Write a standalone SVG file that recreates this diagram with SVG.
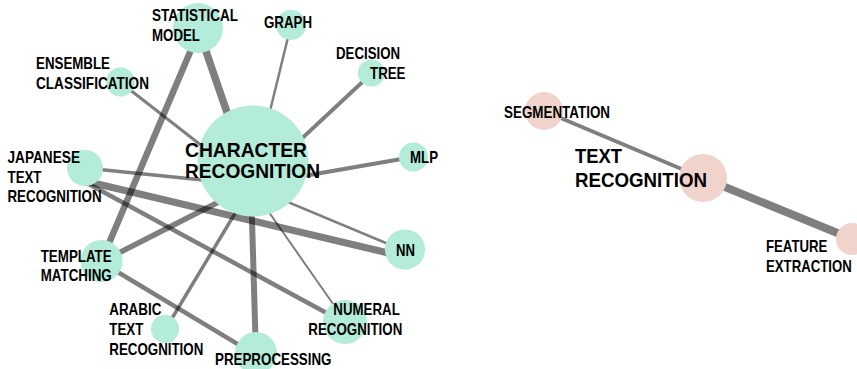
<svg xmlns="http://www.w3.org/2000/svg" width="857" height="369" viewBox="0 0 857 369">
<style>
.e{stroke:#000;stroke-opacity:.5;fill:none}
.g{fill:#b3ecd8}
.p{fill:#f0d4cb}
text{font-family:"Liberation Sans",Arial,sans-serif;font-weight:bold;fill:#000}
.s{font-size:16.5px}
.n{font-size:13.2px}
.b{font-size:19.5px}
</style>
<rect width="857" height="369" fill="#fff"/>
<g id="edges">
<line class="e" x1="199" y1="31" x2="252" y2="185" stroke-width="7.5"/>
<line class="e" x1="291" y1="25" x2="252" y2="185" stroke-width="2.5"/>
<line class="e" x1="371" y1="74" x2="252" y2="185" stroke-width="4"/>
<line class="e" x1="120" y1="82" x2="252" y2="185" stroke-width="3"/>
<line class="e" x1="413" y1="157" x2="252" y2="185" stroke-width="4"/>
<line class="e" x1="85" y1="168" x2="252" y2="185" stroke-width="3.5"/>
<line class="e" x1="405" y1="251" x2="252" y2="187" stroke-width="2.5"/>
<line class="e" x1="101" y1="262" x2="252" y2="185" stroke-width="5.5"/>
<line class="e" x1="165" y1="330" x2="252" y2="185" stroke-width="3.5"/>
<line class="e" x1="256" y1="356" x2="251" y2="185" stroke-width="6"/>
<line class="e" x1="345" y1="321" x2="252" y2="188" stroke-width="2"/>
<line class="e" x1="101" y1="262" x2="199" y2="31" stroke-width="6.5"/>
<line class="e" x1="85" y1="181" x2="405" y2="257" stroke-width="7"/>
<line class="e" x1="85" y1="182" x2="345" y2="323" stroke-width="4.5"/>
<line class="e" x1="101" y1="262" x2="256" y2="355" stroke-width="4.5"/>
<line class="e" x1="544" y1="111" x2="703" y2="178" stroke-width="4"/>
<line class="e" x1="703" y1="178" x2="852" y2="239" stroke-width="8"/>
</g>
<g id="character-recognition"><circle class="g" cx="253" cy="161" r="55.5"/></g>
<g id="statistical-model"><circle class="g" cx="198" cy="28" r="25"/></g>
<g id="graph"><circle class="g" cx="291" cy="25" r="15"/></g>
<g id="decision-tree"><circle class="g" cx="371.5" cy="73" r="13.5"/></g>
<g id="ensemble-classification"><circle class="g" cx="120.5" cy="82" r="14.5"/></g>
<g id="mlp"><circle class="g" cx="413.5" cy="157" r="14.5"/></g>
<g id="japanese-text-recognition"><circle class="g" cx="85" cy="168" r="18"/></g>
<g id="template-matching"><circle class="g" cx="101.5" cy="261" r="21"/></g>
<g id="nn"><circle class="g" cx="405" cy="249.5" r="20"/></g>
<g id="arabic-text-recognition"><circle class="g" cx="165" cy="329" r="14"/></g>
<g id="numeral-recognition"><circle class="g" cx="345" cy="322" r="22"/></g>
<g id="preprocessing"><circle class="g" cx="256" cy="353" r="21"/></g>
<g id="segmentation"><circle class="p" cx="544" cy="111" r="19"/></g>
<g id="text-recognition"><circle class="p" cx="703" cy="178" r="24"/></g>
<g id="feature-extraction"><circle class="p" cx="852" cy="239" r="16"/></g>
<g id="labels">
<text class="s" x="152" y="21" textLength="86" lengthAdjust="spacingAndGlyphs">STATISTICAL</text>
<text class="s" x="152" y="41" textLength="48" lengthAdjust="spacingAndGlyphs">MODEL</text>
<text class="s" x="264" y="28" textLength="48" lengthAdjust="spacingAndGlyphs">GRAPH</text>
<text class="s" x="336" y="59" textLength="64" lengthAdjust="spacingAndGlyphs">DECISION</text>
<text class="s" x="370" y="79" textLength="35.5" lengthAdjust="spacingAndGlyphs">TREE</text>
<text class="s" x="36" y="69" textLength="74" lengthAdjust="spacingAndGlyphs">ENSEMBLE</text>
<text class="s" x="36" y="89" textLength="113" lengthAdjust="spacingAndGlyphs">CLASSIFICATION</text>
<text class="s" x="410" y="163" textLength="28" lengthAdjust="spacingAndGlyphs">MLP</text>
<text class="s" x="7.5" y="163" textLength="72.5" lengthAdjust="spacingAndGlyphs">JAPANESE</text>
<text class="s" x="7.5" y="183" textLength="34" lengthAdjust="spacingAndGlyphs">TEXT</text>
<text class="s" x="7.5" y="202" textLength="94" lengthAdjust="spacingAndGlyphs">RECOGNITION</text>
<text class="s" x="396" y="255.5" textLength="19" lengthAdjust="spacingAndGlyphs">NN</text>
<text class="s" x="40.7" y="261.5" textLength="71" lengthAdjust="spacingAndGlyphs">TEMPLATE</text>
<text class="s" x="40.7" y="281" textLength="71" lengthAdjust="spacingAndGlyphs">MATCHING</text>
<text class="s" x="109.3" y="315" textLength="52" lengthAdjust="spacingAndGlyphs">ARABIC</text>
<text class="s" x="109.3" y="335" textLength="34" lengthAdjust="spacingAndGlyphs">TEXT</text>
<text class="s" x="109.3" y="355" textLength="94" lengthAdjust="spacingAndGlyphs">RECOGNITION</text>
<text class="s" x="333.3" y="315" textLength="66.5" lengthAdjust="spacingAndGlyphs">NUMERAL</text>
<text class="s" x="308.3" y="335" textLength="94" lengthAdjust="spacingAndGlyphs">RECOGNITION</text>
<text class="s" x="215" y="365" textLength="116.5" lengthAdjust="spacingAndGlyphs">PREPROCESSING</text>
<text class="s" x="504" y="118" textLength="106" lengthAdjust="spacingAndGlyphs">SEGMENTATION</text>
<text class="n" transform="translate(766 251.5) scale(1 1.25)">FEATURE</text>
<text class="n" transform="translate(766 271.5) scale(1 1.25)">EXTRACTION</text>
<text class="b" x="185" y="157" textLength="122" lengthAdjust="spacingAndGlyphs">CHARACTER</text>
<text class="b" x="185" y="177.5" textLength="135" lengthAdjust="spacingAndGlyphs">RECOGNITION</text>
<text class="b" x="575" y="163.3" textLength="47" lengthAdjust="spacingAndGlyphs">TEXT</text>
<text class="b" x="575" y="186.7" textLength="132" lengthAdjust="spacingAndGlyphs">RECOGNITION</text>
</g>
</svg>
